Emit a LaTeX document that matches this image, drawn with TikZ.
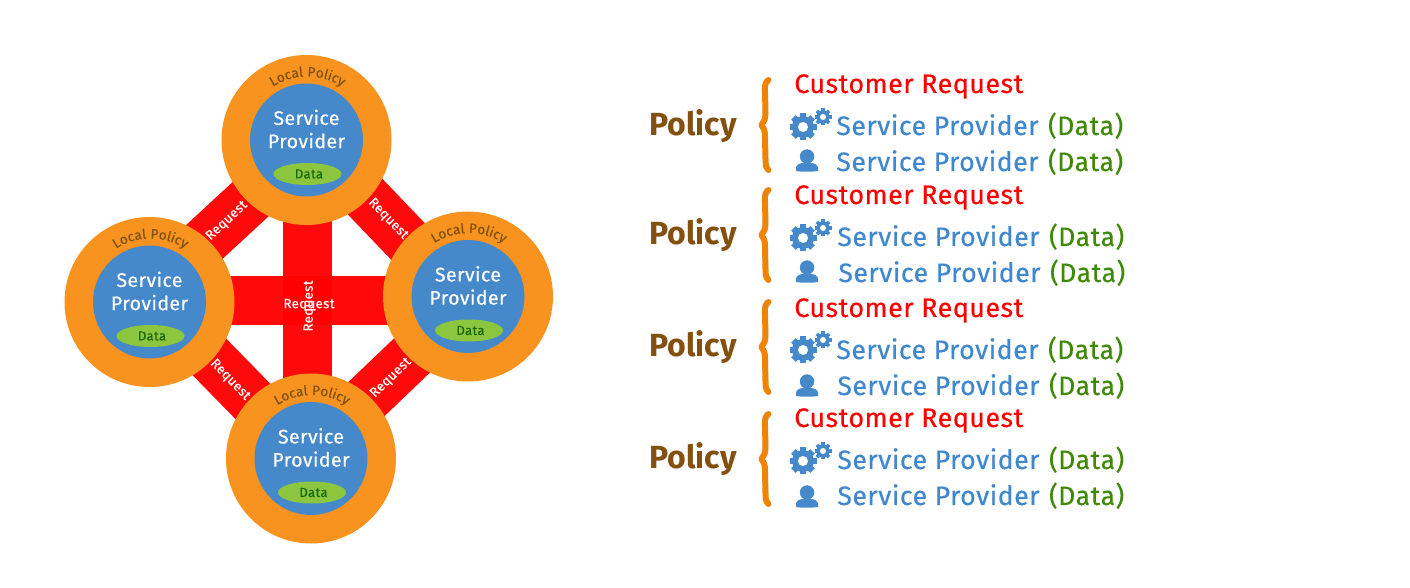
\documentclass[tikz,border=0pt]{standalone}
\usepackage{fontspec}
\usetikzlibrary{decorations.text,calc,shapes.geometric}
\setmainfont{Fira Sans}
\newfontfamily\din[LetterSpace=2,FakeBold=0.35]{Fira Sans}
\definecolor{ringor}{HTML}{F7931E}
\definecolor{spblue}{HTML}{4689CB}
\definecolor{datagreen}{HTML}{8CC63F}
\definecolor{datatext}{HTML}{1B6A0A}
\definecolor{lptext}{HTML}{7F5210}
\definecolor{txtblue}{HTML}{3F87CE}
\definecolor{txtgreen}{HTML}{3F8A05}
\definecolor{polbrown}{HTML}{83500F}
\definecolor{braceor}{HTML}{EE8406}
\tikzset{
 x=0.5pt,y=-0.5pt,
 ring/.style={circle,fill=ringor,minimum size=85pt,inner sep=0pt},
 core/.style={circle,fill=spblue,minimum size=56.5pt,inner sep=0pt},
 splabel/.style={text=white,align=center,inner sep=0pt,font=\din\fontsize{9.8pt}{11.6pt}\selectfont},
 dataell/.style={ellipse,fill=datagreen,minimum width=34pt,minimum height=11pt,inner sep=0pt,text=datatext,font=\din\fontsize{6.6pt}{7pt}\selectfont},
 reqbar/.style={line width=24.8pt,red,opacity=.96},
 reqlabel/.style={text=white,inner sep=0pt,font=\din\fontsize{6.7pt}{7pt}\selectfont},
 crtext/.style={anchor=base west,inner sep=0pt,text=red,font=\din\fontsize{13.4pt}{14pt}\selectfont},
 sptext/.style={anchor=base west,inner sep=0pt,text=txtblue,font=\din\fontsize{13.3pt}{14pt}\selectfont},
 poltext/.style={anchor=base west,inner sep=0pt,text=polbrown,font=\bfseries\fontsize{16pt}{18pt}\selectfont},
 gearicon/.pic={
  \begin{scope}[spblue]
  \foreach \a in {0,45,...,315}{\fill[rotate=\a] (-3.2,0) rectangle (3.2,13.5);}
  \fill (0,0) circle[radius=11];
  \fill[white] (0,0) circle[radius=5];
  \begin{scope}[shift={(20,-10)}]
  \foreach \a in {0,45,...,315}{\fill[rotate=\a] (-1.8,0) rectangle (1.8,8.5);}
  \fill (0,0) circle[radius=6.5];
  \fill[white] (0,0) circle[radius=3];
  \end{scope}
  \end{scope}
 },
 personicon/.pic={
  \fill[spblue] (0,-3.5) circle[radius=7.2];
  \fill[spblue] (-11,11) -- (-11,8) .. controls (-11,4.5) and (-7,3) .. (-3,3) -- (3,3) .. controls (7,3) and (11,4.5) .. (11,8) -- (11,11) .. controls (5,12) and (-5,12) .. (-11,11) -- cycle;
 },
 bracepic/.pic={
  \draw[braceor,line width=3pt,line cap=round,line join=round]
   (3.5,-45) .. controls (0.5,-43) and (-0.5,-40) .. (0,-33) -- (0.5,-12)
   .. controls (0.5,-6) and (-1,-3) .. (-3.5,0)
   .. controls (-1,3) and (0,6) .. (0,12) -- (0.5,34)
   .. controls (0.5,40) and (1,43) .. (3.5,45);
 }
}
\begin{document}
\begin{tikzpicture}
\useasboundingbox[fill=white] (0,0) rectangle (1410,588);
\coordinate (vt) at (307.5,170);
\coordinate (vb) at (307.5,420);
\coordinate (hl) at (190,300.5);
\coordinate (hr) at (430,300.5);
\coordinate (ctop) at (306.5,140);
\coordinate (cleft) at (149.5,302);
\coordinate (cright) at (468,296.5);
\coordinate (cbot) at (311,458.5);
\coordinate (tla) at (273,178.5);
\coordinate (tlb) at (181,263.5);
\coordinate (tra) at (343,173.5);
\coordinate (trb) at (430,264.5);
\coordinate (bla) at (187,334);
\coordinate (blb) at (275,424);
\coordinate (bra) at (435,333.5);
\coordinate (brb) at (343,421.5);
\draw[reqbar] (tla) -- (tlb);
\draw[reqbar] (tra) -- (trb);
\draw[reqbar] (bla) -- (blb);
\draw[reqbar] (bra) -- (brb);
\draw[reqbar] (hl) -- (hr);
\draw[reqbar] (vt) -- (vb);
\foreach \n/\c in {a/ctop,b/cleft,c/cright,d/cbot}{
  \node[ring] (ring\n) at (\c) {};
  \path[decorate,decoration={text along path,text align=center,text color=lptext,
     text={|\din\fontsize{6.8pt}{7pt}\selectfont|Local Policy}}]
     ($(\c)+(212:63.5)+(1,0)$) arc[start angle=212,end angle=328,radius=63.5];
  \node[core] (sp\n) at (\c) {};
  \node[splabel] (lbl\n) at ($(\c)+(0,-11)$) {Service\\Provider};
  \node[dataell] (data\n) at ($(\c)+(1,34)$) {\hspace{1.5pt}Data};
}
\node[reqlabel,rotate=43] (r1) at (227,221) {Request};
\node[reqlabel,rotate=-46] (r2) at (388,219) {Request};
\node[reqlabel,rotate=-46] (r3) at (230,380) {Request};
\node[reqlabel,rotate=44] (r4) at (391,378) {Request};
\node[reqlabel] (r5) at (309,305) {Request};
\node[reqlabel,rotate=90] (r6) at (309.5,306) {Request};
\foreach \n/\cry/\sy/\sx/\ty/\tx/\poly/\by/\gy/\qy in {
 1/93/135/836/171/836/135.5/125/125/160,
 2/204/246/837/282/838/244.5/235/236/271,
 3/317/359/836/395/837/356.5/347/348/385,
 4/427/469/837/505/837/468.5/459/459/496}{
  \node[poltext] (pol\n) at (649,\poly) {Policy};
  \node[crtext] (cr\n) at (794,\cry) {Customer Request};
  \node[sptext] (spa\n) at (\sx,\sy) {Service Provider\hspace{1pt} \textcolor{txtgreen}{(Data)}};
  \node[sptext] (spb\n) at (\tx,\ty) {Service Provider\hspace{1pt} \textcolor{txtgreen}{(Data)}};
  \pic at (765,\by) {bracepic};
  \pic at (803,\gy+2) {gearicon};
  \pic at (807,\qy) {personicon};
}
\end{tikzpicture}
\end{document}
